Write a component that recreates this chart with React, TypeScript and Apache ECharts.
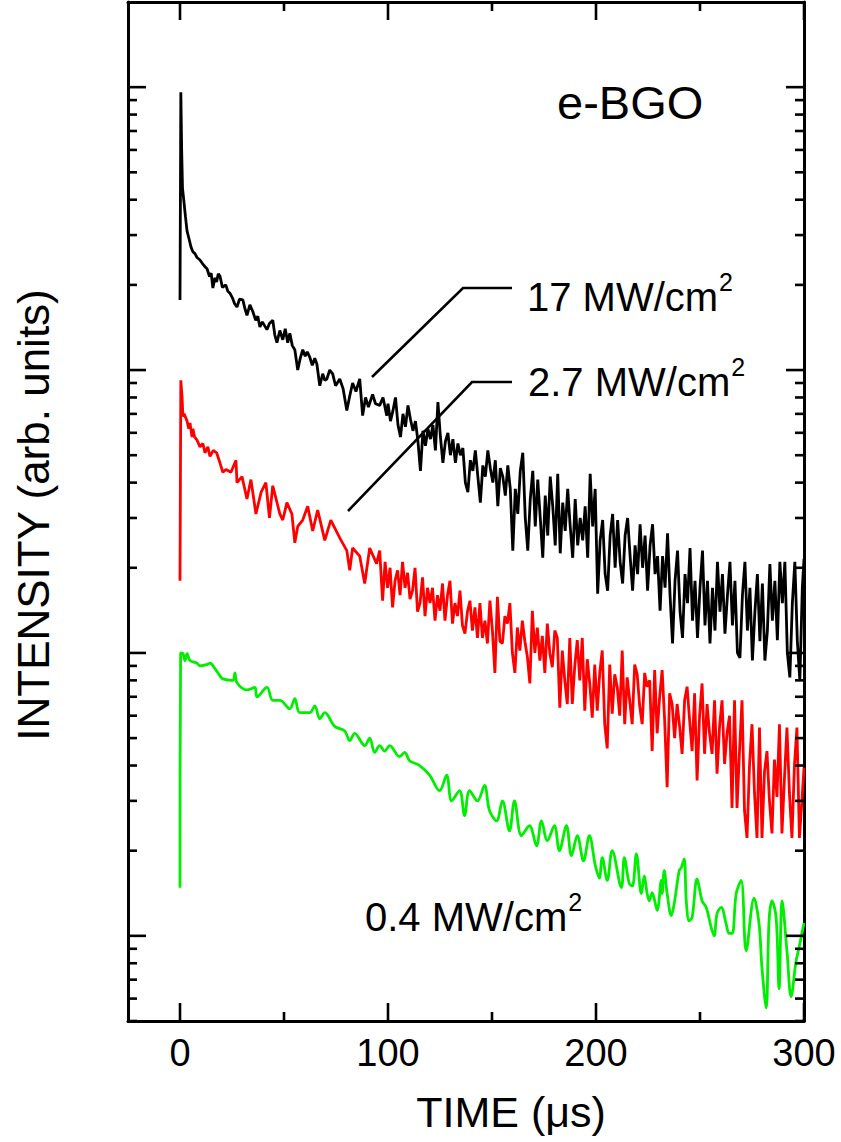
import React, { useEffect, useRef } from "react";
import * as echarts from "echarts";

// ---- data (TIME in µs, INTENSITY in arb. units) ----
const black17: [number, number][] = [
  [0,177],[0.4,960],[0.8,600],[1.2,440],[1.8,400],[2.6,350],[3.4,310],[4.4,290],[5.3,272],[6.2,262],[7.2,258],[8.2,250],[9.6,245],[10.8,238],[12,232],[13,228],[14.2,214],[15,220],[15.8,195],[16.8,212],[17.6,205],[18.4,219],[19.2,215],[20.4,196],[22,200],[23,190],[24,187],[25.2,180],[26.2,172],[27.4,167],[28.6,178],[30.2,177],[31.2,165],[32.2,156],[33.6,170],[35,161],[36.4,150],[37.4,155],[38.4,142],[39.6,148],[40.8,143],[41.8,139],[43,146],[44.6,150],[45.6,133],[46.6,125],[48,138],[49.4,128],[50.6,140],[51.8,125],[52.8,135],[54,122],[55.2,118],[56.6,100],[57.8,110],[59,118],[60.2,112],[61.2,116],[62.4,111],[63.6,104],[64.8,110],[65.8,105],[67.2,88],[68.6,97],[69.6,92],[70.6,93],[72,100],[73.4,97],[74.8,88],[76.8,93],[78.4,86],[80.2,72],[81.6,81],[83,90],[84.6,84],[86.4,93],[87.8,69],[89.2,80],[90.6,74],[92.6,82],[94,76],[96,75],[97.6,80],[99.4,69],
  [100,76],[101.2,66],[102.4,72],[103.6,80],[104.8,64],[106,58],[107.2,70],[108.4,63],[109.6,75],[110.8,67],[112,61],[113.2,66],[114.4,56],[115.6,44],[116.8,61],[118,54],[119.2,62],[120.4,57],[121.6,64],[122.8,52],[124,77],[125.2,58],[126.4,47],[127.6,56],[128.8,60],[130,50],[131.2,57],[132.4,47],[133.6,55],[134.8,50],[136,53],[137.2,40],[138.4,37],[139.6,48],[140.8,44],[142,52],[143.2,42],[144.4,34],[145.6,46],[146.8,42],[148,52],[149.2,45],[150.4,40],[151.6,48],[152.8,33],[154,45],[155.2,42],[156.4,36],[157.6,46],[158.8,38],[160,23],[161.2,38],[162.4,31],[163.6,44],[164.8,51],[166,30],[167.2,23],[168.4,35],[169.6,44],[170.8,28],[172,41],[173.2,30],[174.4,21.7],[175.6,36],[176.8,26],[178,42],[179.2,33],[180.4,24],[181.6,43],[182.8,22.5],[184,34],[185.2,27],[186.4,38],[187.6,28],[188.8,21.7],[190,35],[191.2,24],[192.4,30],[193.6,25],[194.8,33],[196,21.7],[197.2,43],[198.4,28],[199.6,38],[200.8,16.2],[202,25],[203.2,29.5],[204.4,19],[205.6,16.6],[206.8,26],[208,31],[209.2,20],[210.4,29.5],[211.6,21],[212.8,17.6],[214,26],[215.2,30],[216.4,22],[217.6,16.6],[218.8,24],[220,19],[221.2,28.5],[222.4,20],[223.6,26],[224.8,16.6],[226,24],[227.2,28.5],[228.4,19],[229.6,22],[230.8,14.1],[232,22],[233.2,17],[234.4,26.5],[235.6,16],[236.8,10.8],[238,18],[239.2,23],[240.4,14],[241.6,11.3],[242.8,19],[244,15],[245.2,23.5],[246.4,13],[247.6,18],[248.8,11.3],[250,17],[251.2,23],[252.4,12.5],[253.6,18],[254.8,10.8],[256,17],[257.2,12],[258.4,21],[259.6,14],[260.8,19],[262,11.7],[263.2,16],[264.4,21],[265.6,12.5],[266.8,18],[268,10],[269.2,9.6],[270.4,16],[271.6,21],[272.8,12],[274,17],[275.2,9.4],[276.4,14],[277.6,19],[278.8,11],[280,17.6],[281.2,9.4],[282.4,12],[283.6,20.6],[284.8,13],[286,18],[287.2,11.1],[288.4,21],[289.6,15],[290.8,21],[292,10],[293.2,8.2],[294.4,15],[295.6,21],[296.8,11],[298,8.0],[299.2,17],[300,21.5]
];

const red27: [number, number][] = [
  [0,18],[0.4,92],[1,80],[1.4,68.5],[2,70],[3.4,66],[4.2,62],[4.8,65],[5.8,58],[6.2,62],[7,58],[8.2,56.5],[9.6,53.5],[11,55],[12,51],[13.4,53.5],[14.4,49.5],[16,52],[17.6,51],[19.2,47],[20.6,43.5],[22.1,44.5],[24.5,43.5],[26.9,48],[27.4,40],[29.8,42],[32.2,35],[34.1,41],[36.5,31],[39,37],[41.3,40],[43,30],[44.6,39],[48,31],[49.4,29.5],[51.4,34],[53.8,31],[55.2,24.5],[56.6,28],[59,29.5],[61.4,33],[63.8,27],[66.2,32],[69.6,25],[72.5,29.5],[76.8,25.5],[80.2,23],[81.6,19.6],[83,23.5],[86.4,22],[88.8,17.6],[91.2,23.5],[94.5,20.7],[96,23],
  [97.4,15.3],[98.6,21],[99.8,17],[101,20],[102.2,14.5],[103.4,18],[104.6,19.6],[105.8,16],[107,21],[108.2,17],[109.4,19.2],[110.6,15.5],[111.8,16.6],[113,20],[114.2,14],[115.4,15],[116.6,18.5],[117.8,13.5],[119,17],[120.2,15],[121.4,17],[122.6,13],[123.8,16],[125,14.1],[126.2,17.6],[127.4,13],[128.6,16],[129.8,18],[131,12.7],[132.2,15],[133.4,13.5],[134.6,16.6],[135.8,12.5],[137,11.7],[138.2,14],[139.4,15.3],[140.6,12],[141.8,14.5],[143,11.3],[144.2,15],[145.4,11.3],[146.6,13],[147.8,10.8],[149,15.3],[150.2,12],[151.4,8.5],[152.6,15.8],[153.8,11],[155,10.8],[156.2,13.5],[157.4,12.7],[158.6,15],[159.8,10],[161,8.5],[162.2,12.3],[163.4,10.2],[164.6,13],[165.8,11],[167,9.7],[168.2,7.8],[169.4,14.1],[170.6,10],[171.8,12.3],[173,9.4],[174.2,11.5],[175.4,8.5],[176.6,12.7],[177.8,10],[179,8.9],[180.2,12],[181.4,11.3],[182.6,6.4],[183.8,10.2],[185,8],[186.2,6.6],[187.4,11.3],[188.6,6.6],[189.8,9],[191,11.1],[192.2,8],[193.4,11.3],[194.6,6.25],[195.8,9.5],[197,7.8],[198.2,5.9],[199.4,9.1],[200.6,6.25],[201.8,8.5],[203,10.2],[204.2,5.6],[205.4,4.6],[206.6,9.1],[207.8,6.1],[209,8.4],[210.2,7.6],[211.4,6],[212.6,10.2],[213.8,5.6],[215,8.2],[216.2,6.8],[217.4,5.6],[218.6,9.1],[219.8,8.4],[221,6.5],[222.2,5.6],[223.4,8.5],[224.6,7.6],[225.8,8.0],[227,4.5],[228.2,8.7],[229.4,5.2],[230.6,7],[231.8,8.7],[233,5.8],[234.2,3.35],[235.4,7.2],[236.6,6.6],[237.8,5.0],[239,6.6],[240.2,5.5],[241.4,4.4],[242.6,6.8],[243.8,7.6],[245,5.8],[246.2,4.5],[247.4,7.2],[248.6,3.54],[249.8,6],[251,7.8],[252.2,4.4],[253.4,6.6],[254.6,5.2],[255.8,4.4],[257,6.8],[258.2,3.74],[259.4,5.5],[260.6,6.8],[261.8,4.05],[263,5.2],[264.2,6.0],[265.4,2.83],[266.6,6.8],[267.8,2.83],[269,4.5],[270.2,6.8],[271.4,2.77],[272.6,2.22],[273.8,4.0],[275,5.6],[276.2,3.2],[277.4,2.22],[278.6,5.45],[279.8,2.22],[281,3.8],[282.2,4.5],[283.4,3.0],[284.6,2.3],[285.8,4.2],[287,3.1],[288.2,5.6],[289.4,2.3],[290.6,3.6],[291.8,5.45],[293,3.2],[294.2,2.22],[295.4,4.0],[296.6,5.45],[297.8,2.22],[299,3.0],[300,3.93]
];

const green04: [number, number][] = [
  [0,1.48],[0.3,10],[1.4,9.95],[2.4,9.4],[3.4,9.95],[4.8,9.4],[8.2,9.2],[9.6,9.0],[13,9.1],[14.4,9.2],[16.8,8.8],[19.2,8.3],[20.6,8.1],[25.4,8.0],[26.4,8.5],[27.4,7.85],[32.2,7.4],[36,7.55],[37,7.0],[41.8,7.55],[44.6,6.8],[48,6.8],[52.8,6.35],[55.2,6.9],[57.6,6.15],[62.4,6.15],[64.8,6.5],[67.2,5.85],[69.6,6.15],[74.4,5.5],[79.2,5.3],[81.6,4.9],[84,5.2],[88.8,4.7],[91.2,5.0],[93.6,4.45],[96,4.7],[98.4,4.5],[100.8,4.7],[105.6,4.3],[108,4.45],[110.4,4.16],[115.2,4.0],[120,3.7],[124.8,3.26],[128.2,3.7],[130.6,3.0],[134.4,3.26],[136.8,2.66],[139.2,3.26],[143,3.0],[146.4,3.4],[148.8,2.77],[152.2,2.55],[155,3.0],[158.4,2.35],[160.8,3.0],[164.2,2.26],[168,2.45],[171.4,2.08],[173.8,2.55],[176.6,2.17],[180,2.45],[182.4,2.0],[185.8,2.45],[188.2,1.92],[191,2.26],[194,1.84],[196.8,2.26],[199.7,1.77],[201.6,1.6],[203,1.89],[205.4,1.57],[207.8,2.0],[212.2,1.48],[213.6,1.89],[216,1.53],[217.5,1.5],[219.4,1.95],[221.8,1.41],[223.2,1.63],[224.6,1.41],[225.6,1.33],[227,1.42],[229.4,1.23],[231.4,1.57],[231.8,1.41],[232.8,1.7],[234.2,1.41],[236.2,1.18],[237.6,1.3],[240,1.7],[241,1.74],[242.4,1.87],[243.4,1.33],[244.8,1.13],[246.2,1.16],[248.6,1.59],[251,1.33],[253,1.26],[255.4,1.07],[256.8,1.0],[258.2,1.2],[260.2,1.26],[262.6,1.1],[264,1.02],[265.5,1.02],[267.4,1.41],[269.8,1.57],[272.2,0.885],[276,1.36],[278.4,1.1],[279.8,0.77],[281.8,0.556],[283.2,1.13],[284.6,1.33],[286.6,1.16],[288,0.65],[289.5,1.33],[291.8,0.885],[293.8,0.61],[296.2,0.816],[297.6,0.907],[300,1.11]
];

const xLabelValues = [0, 100, 200, 300];
const xMajorTicks = [0, 100, 200, 300];
const xMinorTicks = [50, 150, 250];
const yMajorTicks = [1, 10, 100, 1000];
const yMinorTicks = [
  0.5, 0.6, 0.7, 0.8, 0.9,
  2, 3, 4, 5, 6, 7, 8, 9,
  20, 30, 40, 50, 60, 70, 80, 90,
  200, 300, 400, 500, 600, 700, 800, 900,
];
const X_MIN = -25, X_MAX = 300, Y_MIN = 0.5, Y_MAX = 2000;

const FONT = "'Liberation Sans', Arial, Helvetica, sans-serif";

function measure(text: string, size: number): number {
  const ctx = document.createElement("canvas").getContext("2d");
  if (!ctx) return text.length * size * 0.5;
  ctx.font = `${size}px ${FONT}`;
  return ctx.measureText(text).width;
}

export default function App() {
  const ref = useRef<HTMLDivElement>(null);
  useEffect(() => {
    if (!ref.current) return;
    const chart = echarts.init(ref.current, null, { renderer: "svg" });

    // tick items: [x, y, axis(0=x,1=y), major(1/0)]
    const tickData: number[][] = [];
    xMajorTicks.forEach((v) => tickData.push([v, Y_MIN, 0, 1]));
    xMinorTicks.forEach((v) => tickData.push([v, Y_MIN, 0, 0]));
    yMajorTicks.forEach((v) => tickData.push([X_MIN, v, 1, 1]));
    yMinorTicks.forEach((v) => tickData.push([X_MIN, v, 1, 0]));

    const lineSeries = (name: string, data: [number, number][], color: string, smooth: number) => ({
      type: "line",
      name,
      data,
      showSymbol: false,
      symbol: "none",
      smooth,
      lineStyle: { color, width: 2.8 },
      clip: true,
      z: 3,
    });

    const axisLine = { show: true, onZero: false, lineStyle: { color: "#000", width: 3 } };

    const MAIN = 40, SUP = 25;
    const label = (x: number, y: number, main: string) => {
      const w = measure(main, MAIN);
      return [
        { type: "text", x, y, z: 10, style: { text: main, fill: "#000", font: `${MAIN}px ${FONT}`, verticalAlign: "middle", align: "left" } },
        { type: "text", x: x + w + 1, y: y - 15, z: 10, style: { text: "2", fill: "#000", font: `${SUP}px ${FONT}`, verticalAlign: "middle", align: "left" } },
      ];
    };

    chart.setOption({
      animation: false,
      backgroundColor: "#fff",
      grid: { left: 128, right: 37, top: 2, bottom: 121, containLabel: false },
      xAxis: [
        {
          type: "value", min: X_MIN, max: X_MAX, position: "bottom",
          axisLine,
          axisTick: { show: false },
          splitLine: { show: false },
          axisLabel: {
            customValues: xLabelValues, color: "#000", fontSize: 38, fontFamily: FONT, margin: 13,
          },
        },
        {
          type: "value", min: X_MIN, max: X_MAX, position: "top",
          axisLine,
          axisTick: { show: false }, splitLine: { show: false }, axisLabel: { show: false },
        },
      ],
      yAxis: [
        {
          type: "log", min: Y_MIN, max: Y_MAX, position: "left",
          axisLine,
          axisTick: { show: false }, splitLine: { show: false }, axisLabel: { show: false },
          minorTick: { show: false }, minorSplitLine: { show: false },
        },
        {
          type: "log", min: Y_MIN, max: Y_MAX, position: "right",
          axisLine,
          axisTick: { show: false }, splitLine: { show: false }, axisLabel: { show: false },
        },
      ],
      series: [
        lineSeries("0.4 MW/cm²", green04, "#00ee00", 0.35),
        lineSeries("2.7 MW/cm²", red27, "#ff0000", 0),
        lineSeries("17 MW/cm²", black17, "#000000", 0),
        {
          type: "custom",
          coordinateSystem: "cartesian2d",
          data: tickData,
          clip: false,
          silent: true,
          z: 5,
          encode: { x: 0, y: 1 },
          renderItem: (_params: any, api: any) => {
            const axis = api.value(2);
            const major = api.value(3) === 1;
            const len = major ? 18 : 9;
            const style = { stroke: "#000", lineWidth: 2.6 };
            if (axis === 1) {
              const v = api.value(1);
              const pL = api.coord([X_MIN, v]);
              const pR = api.coord([X_MAX, v]);
              return {
                type: "group",
                children: [
                  { type: "line", shape: { x1: pL[0], y1: pL[1], x2: pL[0] + len, y2: pL[1] }, style },
                  { type: "line", shape: { x1: pR[0], y1: pR[1], x2: pR[0] - len, y2: pR[1] }, style },
                ],
              };
            }
            const v = api.value(0);
            const pB = api.coord([v, Y_MIN]);
            const pT = api.coord([v, Y_MAX]);
            return {
              type: "group",
              children: [
                { type: "line", shape: { x1: pB[0], y1: pB[1], x2: pB[0], y2: pB[1] - len }, style },
                { type: "line", shape: { x1: pT[0], y1: pT[1], x2: pT[0], y2: pT[1] + len }, style },
              ],
            };
          },
        },
      ],
      graphic: [
        // leader lines
        { type: "polyline", shape: { points: [[372, 377], [463, 288], [512, 288]] }, style: { stroke: "#000", lineWidth: 2.6, fill: null }, z: 10 },
        { type: "polyline", shape: { points: [[348, 511], [472, 382], [512, 382]] }, style: { stroke: "#000", lineWidth: 2.6, fill: null }, z: 10 },
        // labels
        { type: "text", x: 557, y: 102, z: 10, style: { text: "e-BGO", fill: "#000", font: `47px ${FONT}`, verticalAlign: "middle", align: "left" } },
        ...label(527, 297, "17 MW/cm"),
        ...label(528, 382, "2.7 MW/cm"),
        ...label(365, 917, "0.4 MW/cm"),
        // axis titles
        { type: "text", x: 511, y: 1112, z: 10, style: { text: "TIME (\u03bcs)", fill: "#000", font: `43px ${FONT}`, verticalAlign: "middle", align: "center" } },
        { type: "text", x: 33, y: 515, rotation: Math.PI / 2, z: 10, style: { text: "INTENSITY (arb. units)", fill: "#000", font: `44px ${FONT}`, verticalAlign: "middle", align: "center" } },
      ],
    });

    return () => chart.dispose();
  }, []);

  return (
    <div
      ref={ref}
      style={{ position: "absolute", left: 0, top: 0, width: 841, height: 1142, background: "#fff" }}
    />
  );
}
